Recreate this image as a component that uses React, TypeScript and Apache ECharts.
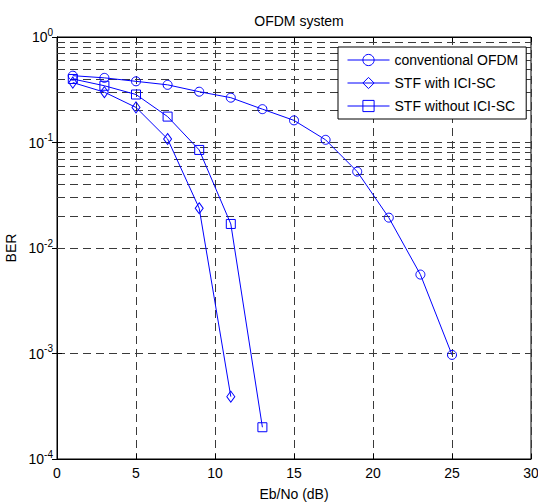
import React, { useEffect, useRef } from "react";
import * as echarts from "echarts";

const xConventional = [1, 3, 5, 7, 9, 11, 13, 15, 17, 19, 21, 23, 25];
const berConventional = [0.43, 0.41, 0.38, 0.352, 0.303, 0.266, 0.207, 0.162, 0.106, 0.053, 0.0194, 0.0056, 0.00097];

const xWithICI = [1, 3, 5, 7, 9, 11];
const berWithICI = [0.37, 0.3, 0.215, 0.108, 0.0238, 0.00039];

const xWithoutICI = [1, 3, 5, 7, 9, 11, 13];
const berWithoutICI = [0.4, 0.345, 0.285, 0.176, 0.085, 0.0169, 0.0002];

const seriesNames = ["conventional OFDM", "STF with ICI-SC", "STF without ICI-SC"];
const minorGridValues: number[] = [];
[1e-4, 1e-3, 1e-2, 1e-1].forEach((d) => {
  for (let k = 2; k <= 9; k++) minorGridValues.push(+(k * d).toPrecision(3));
});

const FONT = "'Liberation Sans', Arial, sans-serif";
const BLUE = "#0000ff";
const GRID = "#3a3a3a";
const DASH = [8, 5];

function pair(xs: number[], ys: number[]) {
  return xs.map((x, i) => [x, ys[i]]);
}

export default function App() {
  const ref = useRef<HTMLDivElement>(null);
  useEffect(() => {
    if (!ref.current) return;
    const chart = echarts.init(ref.current, null, { renderer: "svg" });
    const mk = (name: string, data: number[][], symbol: string, size: any) => ({
      name,
      type: "line",
      data,
      symbol,
      symbolSize: size,
      showSymbol: true,
      z: 5,
      lineStyle: { color: BLUE, width: 1 },
      itemStyle: { color: "rgba(0,0,0,0)", borderColor: BLUE, borderWidth: 1 },
    });
    chart.setOption({
      animation: false,
      backgroundColor: "#fff",
      textStyle: { fontFamily: FONT },
      title: {
        text: "OFDM system",
        left: 294,
        top: 9,
        textAlign: "center",
        textStyle: { fontFamily: FONT, fontSize: 14, fontWeight: "normal", color: "#000" },
      },
      grid: {
        left: 57,
        right: 7,
        top: 37,
        bottom: 43,
        outerBoundsMode: "none",
        containLabel: false,
        show: true,
        borderColor: "#000",
        borderWidth: 1,
        backgroundColor: "#fff",
      },
      legend: {
        data: seriesNames,
        orient: "vertical",
        left: 338,
        top: 47,
        padding: [6, 8, 6, 9],
        itemGap: 9,
        itemWidth: 42,
        itemHeight: 14,
        backgroundColor: "#fff",
        borderColor: "#000",
        borderWidth: 1,
        lineStyle: { width: 1, color: BLUE },
        itemStyle: { borderWidth: 1, borderColor: BLUE, color: "rgba(0,0,0,0)" },
        textStyle: { fontFamily: FONT, fontSize: 14, color: "#000" },
        z: 10,
      },
      xAxis: [
        {
          type: "value",
          min: 0,
          max: 30,
          interval: 5,
          name: "Eb/No (dB)",
          nameLocation: "middle",
          nameGap: 28,
          nameTextStyle: { fontFamily: FONT, fontSize: 14, color: "#000" },
          axisLine: { show: true, lineStyle: { color: "#000" } },
          axisTick: { show: true, inside: true, length: 5, lineStyle: { color: "#000" } },
          axisLabel: { fontFamily: FONT, fontSize: 14, color: "#000", margin: 7 },
          splitLine: { show: true, lineStyle: { color: GRID, type: DASH, width: 1 } },
        },
        {
          type: "value",
          position: "top",
          min: 0,
          max: 30,
          interval: 5,
          axisLine: { show: true, lineStyle: { color: "#000" } },
          axisTick: { show: true, inside: true, length: 5, lineStyle: { color: "#000" } },
          axisLabel: { show: false },
          splitLine: { show: false },
        },
      ],
      yAxis: [
        {
          type: "log",
          logBase: 10,
          min: 1e-4,
          max: 1,
          name: "BER",
          nameLocation: "middle",
          nameGap: 38,
          nameTextStyle: { fontFamily: FONT, fontSize: 14, color: "#000" },
          axisLine: { show: true, lineStyle: { color: "#000" } },
          axisTick: { show: true, inside: true, length: 5, lineStyle: { color: "#000" } },
          axisLabel: {
            margin: 4,
            formatter: (v: number) => `{b|10}{s|${Math.round(Math.log10(v))}}`,
            rich: {
              b: { fontFamily: FONT, fontSize: 14, color: "#000" },
              s: { fontFamily: FONT, fontSize: 10, color: "#000", verticalAlign: "top", padding: [0, 0, 10, 0] },
            },
          },
          splitLine: { show: true, lineStyle: { color: GRID, type: DASH, width: 1 } },
        },
        {
          type: "log",
          logBase: 10,
          min: 1e-4,
          max: 1,
          position: "right",
          axisLine: { show: true, lineStyle: { color: "#000" } },
          axisTick: { show: true, inside: true, length: 5, lineStyle: { color: "#000" } },
          axisLabel: { show: false },
          splitLine: { show: false },
        },
      ],
      series: [
        {
          name: "minorGrid",
          type: "line",
          data: [],
          z: 1,
          markLine: {
            silent: true,
            symbol: "none",
            label: { show: false },
            lineStyle: { color: GRID, type: DASH, width: 1 },
            data: minorGridValues.map((v) => ({ yAxis: v })),
          },
        },
        mk(seriesNames[0], pair(xConventional, berConventional), "circle", 9),
        mk(seriesNames[1], pair(xWithICI, berWithICI), "diamond", [8, 11]),
        mk(seriesNames[2], pair(xWithoutICI, berWithoutICI), "rect", 9),
      ],
    });
    return () => chart.dispose();
  }, []);
  return <div ref={ref} style={{ width: 538, height: 502, position: "absolute", left: 0, top: 0 }} />;
}
